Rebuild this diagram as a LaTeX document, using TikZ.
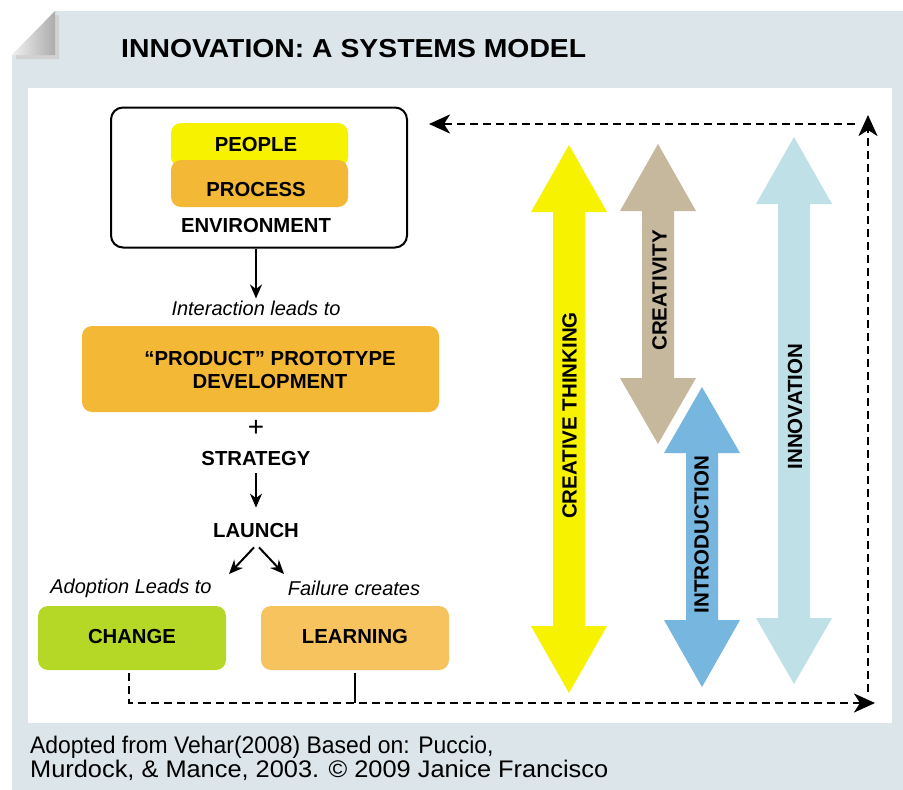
\documentclass[tikz,border=0pt]{standalone}
\usepackage{fontspec}
\setmainfont{Liberation Sans}
\usetikzlibrary{arrows.meta}
\definecolor{panel}{RGB}{220,229,233}
\definecolor{cyellow}{RGB}{247,242,0}
\definecolor{corange}{RGB}{243,184,54}
\definecolor{ctan}{RGB}{198,184,156}
\definecolor{cblue}{RGB}{119,182,222}
\definecolor{clblue}{RGB}{190,224,230}
\definecolor{cgreen}{RGB}{181,216,39}
\definecolor{clorange}{RGB}{246,195,95}
\newcommand\dblarrow[6]{%
  \fill[#1] (#2,#3) -- (#2+38,#4) -- (#2+16,#4) -- (#2+16,#5) -- (#2+38,#5) -- (#2,#6)
    -- (#2-38,#5) -- (#2-16,#5) -- (#2-16,#4) -- (#2-38,#4) -- cycle;}
\begin{document}
\begin{tikzpicture}[x=1pt,y=-1pt,
  lbl/.style={font=\fontsize{20.3}{23.5}\selectfont\bfseries, inner sep=0pt, align=center},
  vlbl/.style={font=\fontsize{20.5}{24}\selectfont\bfseries, inner sep=0pt, rotate=90},
  itl/.style={font=\fontsize{20}{24}\selectfont\itshape, inner sep=0pt},
  box/.style={rounded corners=10pt, inner sep=0pt, draw=none},
  dsh/.style={dash pattern=on 8pt off 5pt, line width=2.3pt},
  dtip/.style={-{Stealth[length=21pt,width=19pt,inset=6pt]}},
  arr/.style={line width=2pt, -{Stealth[length=14pt,width=12pt]}}
]
\useasboundingbox (0,0) rectangle (903,790);
% panel with folded corner
\fill[panel] (55,11) -- (903,11) -- (903,790) -- (12,790) -- (12,55) -- cycle;
\fill[black!18] (55,15) -- (59,15) -- (59,59) -- (16,59) -- (16,55) -- (55,55) -- cycle;
\shade[left color=gray!12, right color=gray!65] (55,11) -- (55,55) -- (12,55) -- cycle;
% inner white panel
\fill[white] (28,88) rectangle (892,723);
% title
\node[font=\fontsize{26}{30}\selectfont\bfseries, anchor=base west, inner sep=0pt] (title) at (121,57) {\scalebox{1.09}[1]{INNOVATION: A SYSTEMS MODEL}};
% environment box
\node[draw, line width=2pt, rounded corners=12pt, minimum width=296pt, minimum height=140pt, inner sep=0pt] (env) at (259,177.5) {};
\node[box, fill=cyellow, minimum width=177pt, minimum height=44pt] (peoplebox) at (259.5,145) {};
\node[box, fill=corange, minimum width=177pt, minimum height=47pt] (processbox) at (259.5,183.5) {};
\node[lbl] (people) at (256,145) {PEOPLE};
\node[lbl] (process) at (256,190) {PROCESS};
\node[lbl] (environment) at (256,226) {ENVIRONMENT};
% interaction
\node[itl] (inter) at (256,308) {Interaction leads to};
\draw[arr] (env.south -| inter) -- ([yshift=2pt]inter.north);
% product
\node[box, fill=corange, minimum width=357pt, minimum height=86pt] (prodbox) at (260.5,369) {};
\node[lbl] (prod) at (270,370) {“PRODUCT” PROTOTYPE\\DEVELOPMENT};
\node[font=\fontsize{28}{30}\selectfont, inner sep=0pt] (plus) at (256,428) {+};
\node[lbl] (strat) at (256,459) {STRATEGY};
\node[lbl] (launch) at (256,531) {LAUNCH};
\draw[arr, shorten <=7pt, shorten >=16pt] (strat.south) -- (launch.north);
\coordinate (la) at (229,574);
\coordinate (lb) at (284,574);
\draw[arr] ([xshift=-2pt,yshift=-9pt]launch.south) -- (la);
\draw[arr] ([xshift=3pt,yshift=-9pt]launch.south) -- (lb);
% change / learning
\node[itl] (adopt) at (131,588) {Adoption Leads to};
\node[itl] (fail) at (354,588) {Failure creates};
\node[box, fill=cgreen, minimum width=188pt, minimum height=64pt] (changebox) at (132,638) {};
\node[box, fill=clorange, minimum width=188pt, minimum height=64pt] (learnbox) at (355,638) {};
\node[lbl] (change) at (132,637) {CHANGE};
\node[lbl] (learn) at (355,637) {LEARNING};
% feedback loop
\coordinate (bend) at (875,703);
\coordinate (rb) at (868,692);
\coordinate (rt) at (868,115);
\coordinate (tr) at (855,124);
\draw[dsh, dtip] ([xshift=-3pt,yshift=-3pt]changebox.south) |- (bend);
\draw[line width=2.3pt] ([yshift=-3pt]learnbox.south) -- (learnbox.south |- bend);
\draw[dsh, dtip] (rb) -- (rt);
\draw[dsh, dtip] (tr) -- ([xshift=21pt]env.east |- tr);
% big arrows
\dblarrow{cyellow}{569}{145}{212}{626}{693}
\dblarrow{ctan}{658}{144}{211}{378}{444}
\dblarrow{cblue}{702}{387}{453}{620}{687}
\dblarrow{clblue}{794}{137}{204}{618}{684}
\node[vlbl] (ct) at (569.5,415.5) {CREATIVE THINKING};
\node[vlbl] (cr) at (659.5,290.5) {CREATIVITY};
\node[vlbl] (intro) at (701.5,534.5) {INTRODUCTION};
\node[vlbl] (innov) at (795,406.5) {INNOVATION};
% footer
\node[font=\fontsize{24}{24}\selectfont, anchor=base west, inner sep=0pt] (foot1) at (30,753) {\scalebox{0.955}[1]{Adopted from Vehar(2008) Based on: Puccio,}};
\node[font=\fontsize{24}{24}\selectfont, anchor=base west, inner sep=0pt] (foot2) at (30,777) {\scalebox{1.057}[1]{Murdock, \& Mance, 2003. © 2009 Janice Francisco}};
\end{tikzpicture}
\end{document}
